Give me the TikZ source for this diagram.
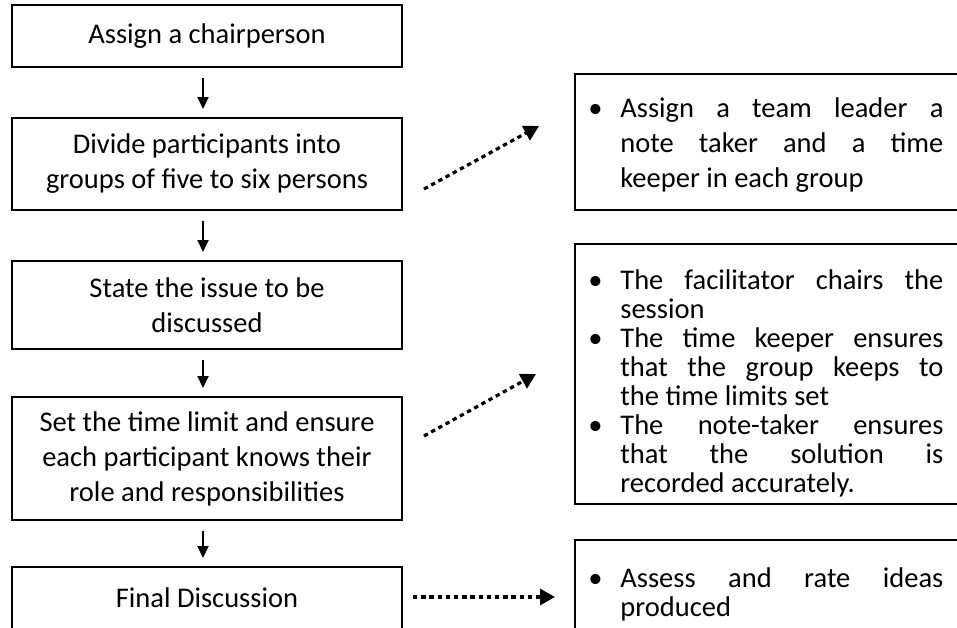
\documentclass[tikz,border=0pt]{standalone}
\usepackage{fontspec}
\setmainfont{Carlito}
\usetikzlibrary{arrows.meta}

\newcommand{\noteitem}[1]{\par\noindent\hangindent=16pt\hangafter=1\makebox[16pt][l]{\textbullet}#1\par}

\begin{document}
\begin{tikzpicture}[x=0.5pt, y=-0.5pt,
        stepbox/.style={draw, line width=1pt, minimum width=195pt, align=center, inner sep=0pt,
            font=\fontsize{14.25}{17.5}\selectfont},
        notebox/.style={minimum width=250pt, inner sep=0pt, anchor=north west},
        notetext/.style={text width=177.5pt, align=justify, inner sep=0pt, anchor=north west},
        edge/.style={line width=1pt},
        flow/.style={line width=1pt, -{Triangle[length=6pt, width=5.5pt]}, shorten <=5pt, shorten >=4pt},
        hint/.style={line width=1.6pt, dash pattern=on 2.2pt off 1.9pt, -{Triangle[length=7.5pt, width=8pt]}}]

    % Frame
    \useasboundingbox (0,0) rectangle (957,627);
    \clip (0,0) rectangle (957,627);

    % Steps
    \node[stepbox, minimum height=31pt] (b1) at (207,36) {Assign a chairperson};
    \node[stepbox, minimum height=46pt] (b2) at (207,164) {Divide participants into\\groups of five to six persons};
    \node[stepbox, minimum height=44pt] (b3) at (207,305) {State the issue to be\\discussed};
    \node[stepbox, minimum height=61.5pt] (b4) at (207,458.5) {Set the time limit and ensure\\each participant knows their\\role and responsibilities};
    \node[stepbox, minimum height=31pt] (b5) at (207,598) {Final Discussion};

    % Flow arrows
    \draw[flow] ([xshift=-2pt]b1.south) -- ([xshift=-2pt]b2.north);
    \draw[flow] ([xshift=-2pt]b2.south) -- ([xshift=-2pt]b3.north);
    \draw[flow] ([xshift=-2pt]b3.south) -- ([xshift=-2pt]b4.north);
    \draw[flow] ([xshift=-2pt]b4.south) -- ([xshift=-2pt]b5.north);

    % Note boxes (cut off at the right)
    \node[notebox, minimum height=67.5pt] (r1) at (575,74) {};
    \node[notebox, minimum height=129.5pt] (r2) at (575,244) {};
    \node[notebox, minimum height=50pt] (r3) at (575,540) {};
    \foreach \r in {r1,r2,r3}
        \draw[edge] (\r.north east) -- (\r.north west) -- (\r.south west) -- (\r.south east);

    \node[notetext, font=\fontsize{14.25}{17.5}\selectfont] (r1t) at (588,82) {%
        \noteitem{Assign a team leader a\linebreak note taker and a time\linebreak keeper in each group}};
    \node[notetext, font=\fontsize{14.25}{14.5}\selectfont] (r2t) at (588,260) {%
        \noteitem{The facilitator chairs the\linebreak session}
        \noteitem{The time keeper ensures\linebreak that the group keeps to\linebreak the time limits set}
        \noteitem{The note-taker ensures\linebreak that the solution is\linebreak recorded accurately.}};
    \node[notetext, font=\fontsize{14.25}{14.5}\selectfont] (r3t) at (588,558) {%
        \noteitem{Assess and rate ideas\linebreak produced}};

    % Dotted hints
    \coordinate (h1a) at (424,189);
    \coordinate (h1b) at (539,126);
    \coordinate (h2a) at (424,436);
    \coordinate (h2b) at (536,374);
    \coordinate (h3a) at (413,597);
    \coordinate (h3b) at (555,597);
    \draw[hint] (h1a) -- (h1b);
    \draw[hint] (h2a) -- (h2b);
    \draw[hint] (h3a) -- (h3b);

\end{tikzpicture}
\end{document}
